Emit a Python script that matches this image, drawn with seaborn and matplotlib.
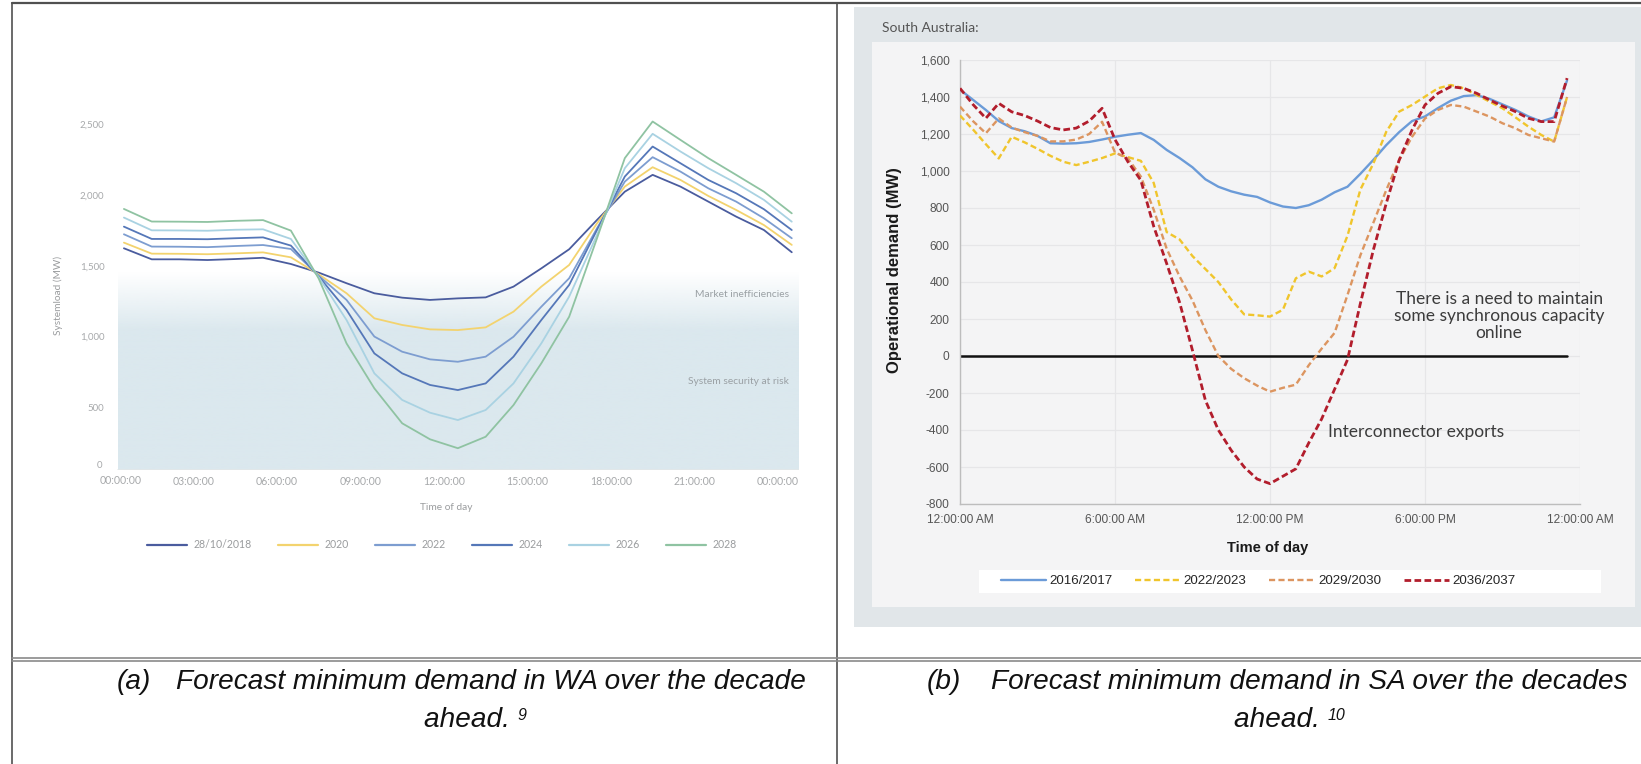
import numpy as np
import pandas as pd
import matplotlib
matplotlib.use("Agg")
import matplotlib.pyplot as plt
import seaborn as sns
from matplotlib.patches import Rectangle
from matplotlib.ticker import FuncFormatter, FixedLocator
from matplotlib.colors import to_rgb

# ---------------- WA data (hourly, half past each hour) ----------------
wa_hours = [0.5 + k for k in range(25)]
wa_2018 = [1624, 1546, 1546, 1541, 1548, 1557, 1513, 1452, 1377, 1306, 1275, 1259, 1270,
           1277, 1353, 1482, 1617, 1824, 2024, 2143, 2060, 1954, 1848, 1753, 1596]
wa_2020 = [1664, 1586, 1585, 1582, 1588, 1595, 1560, 1440, 1306, 1129, 1082, 1051, 1046,
           1065, 1176, 1353, 1506, 1800, 2060, 2197, 2107, 1994, 1895, 1788, 1648]
wa_2022 = [1723, 1636, 1635, 1632, 1640, 1647, 1619, 1430, 1259, 1000, 893, 839, 822,
           858, 999, 1211, 1412, 1765, 2095, 2268, 2166, 2048, 1954, 1836, 1695]
wa_2024 = [1777, 1690, 1690, 1688, 1695, 1701, 1643, 1425, 1188, 881, 740, 658, 622,
           669, 858, 1117, 1365, 1753, 2131, 2343, 2225, 2107, 2013, 1900, 1753]
wa_2026 = [1841, 1751, 1750, 1748, 1755, 1758, 1690, 1420, 1117, 740, 552, 462, 410,
           481, 669, 952, 1282, 1718, 2190, 2433, 2308, 2190, 2084, 1966, 1812]
wa_2028 = [1902, 1813, 1812, 1810, 1818, 1823, 1749, 1410, 952, 634, 387, 274, 211,
           292, 516, 811, 1140, 1694, 2261, 2520, 2390, 2261, 2143, 2024, 1871]
wa_labels = ["28/10/2018", "2020", "2022", "2024", "2026", "2028"]
wa_colors = ["#4a5c9e", "#f3d36e", "#7d9dd0", "#5577b8", "#a9d2e2", "#8fc3a2"]
wa_yticks = [500, 1000, 1500, 2000, 2500]
wa_xticks = [0, 3, 6, 9, 12, 15, 18, 21, 24]
wa_xticklabels = ["00:00:00", "03:00:00", "06:00:00", "09:00:00", "12:00:00",
                  "15:00:00", "18:00:00", "21:00:00", "00:00:00"]

# ---------------- SA data (half-hourly) ----------------
sa_hours = [0.5 * k for k in range(48)]
sa_2016 = [1440, 1385, 1330, 1270, 1232, 1215, 1190, 1150, 1148, 1150, 1157, 1170,
           1185, 1196, 1205, 1168, 1114, 1070, 1020, 955, 915, 890, 872, 860,
           830, 808, 800, 815, 845, 885, 915, 985, 1060, 1140, 1210, 1270,
           1295, 1340, 1380, 1405, 1410, 1390, 1360, 1330, 1295, 1268, 1290, 1490]
sa_2022 = [1300, 1225, 1145, 1068, 1185, 1155, 1120, 1082, 1050, 1032, 1050, 1070,
           1095, 1075, 1055, 935, 670, 630, 540, 470, 400, 305, 225, 220,
           213, 250, 420, 456, 430, 475, 650, 900, 1040, 1212, 1321, 1357,
           1402, 1447, 1465, 1447, 1411, 1375, 1339, 1290, 1240, 1195, 1159, 1400]
sa_2029 = [1348, 1270, 1204, 1284, 1235, 1210, 1190, 1160, 1160, 1170, 1200, 1266,
           1100, 1068, 970, 790, 580, 430, 300, 140, 0, -70, -120, -160,
           -193, -172, -155, -50, 40, 125, 330, 545, 720, 897, 1059, 1185,
           1284, 1330, 1357, 1348, 1321, 1294, 1258, 1231, 1195, 1177, 1159, 1400]
sa_2036 = [1447, 1360, 1285, 1366, 1320, 1300, 1270, 1235, 1222, 1232, 1270, 1339,
           1170, 1050, 950, 700, 500, 290, 30, -240, -400, -510, -600, -665,
           -690, -650, -610, -470, -340, -180, -20, 285, 573, 825, 1059, 1222,
           1357, 1420, 1456, 1447, 1420, 1384, 1351, 1321, 1285, 1267, 1267, 1502]
sa_labels = ["2016/2017", "2022/2023", "2029/2030", "2036/2037"]
sa_colors = ["#6b9bd8", "#f0c52c", "#dc9560", "#b21d2c"]
sa_yticks = [-800, -600, -400, -200, 0, 200, 400, 600, 800, 1000, 1200, 1400, 1600]
sa_xticks = [0, 6, 12, 18, 24]
sa_xticklabels = ["12:00:00 AM", "6:00:00 AM", "12:00:00 PM", "6:00:00 PM", "12:00:00 AM"]

W, H = 1641, 764
fig = plt.figure(figsize=(W / 100, H / 100), dpi=100)
sns.set_style("white")
plt.rcParams["font.family"] = ["Lato", "DejaVu Sans"]

def fx(px):
    return px / W

def fy(py):
    return 1 - py / H

# ---------------- background (table + SA panel) ----------------
bg = fig.add_axes([0, 0, 1, 1], zorder=-10)
bg.set_xlim(0, W)
bg.set_ylim(H, 0)
bg.axis("off")
bg.add_patch(Rectangle((854, 7), 787, 620, color="#e1e6e9", lw=0))
bg.add_patch(Rectangle((872, 42), 763, 565, color="#f4f4f5", lw=0))
bg.add_patch(Rectangle((979, 570), 622, 23, color="white", lw=0))
lc = "#505050"
bg.plot([12, W], [3, 3], color=lc, lw=1.6)
bg.plot([12, 12], [3, H], color=lc, lw=1.2)
bg.plot([837, 837], [3, H], color=lc, lw=1.2)
bg.plot([12, W], [658, 658], color="#8a8a8a", lw=1.2)
bg.plot([12, W], [661, 661], color="#8a8a8a", lw=1.2)

# ---------------- Left chart (WA) ----------------
axL = fig.add_axes([fx(110), fy(470), fx(799) - fx(110), fy(100) - fy(470)])
axL.set_facecolor("none")
ylo, yhi = 57, 2672
top_fade, full_col = 1450, 1040
ys = np.linspace(ylo, top_fade, 400)
alpha = np.clip((top_fade - ys) / (top_fade - full_col), 0, 1)
rgba = np.zeros((400, 1, 4))
rgba[:, 0, :3] = to_rgb("#dbe8ee")
rgba[:, 0, 3] = alpha
axL.imshow(rgba, extent=(0.29, 24.76, ylo, top_fade), origin="lower", aspect="auto", zorder=0)
axL.axhline(ylo, xmin=0.29 / 24.76, xmax=1, color="#e3e7e9", lw=1.2, zorder=1)

for vals, lab, col in zip([wa_2018, wa_2020, wa_2022, wa_2024, wa_2026, wa_2028],
                          wa_labels, wa_colors):
    sns.lineplot(x=wa_hours, y=vals, ax=axL, color=col, lw=1.3, label=lab, zorder=3)

axL.set_xlim(0, 24.76)
axL.set_ylim(ylo, yhi)
for s in axL.spines.values():
    s.set_visible(False)
axL.yaxis.set_major_locator(FixedLocator(wa_yticks))
axL.yaxis.set_major_formatter(FuncFormatter(lambda v, p: f"{int(v):,}"))
axL.set_xticks(wa_xticks)
axL.set_xticklabels([""] + wa_xticklabels[1:])
tick_col = "#a7a9ab"
axL.tick_params(axis="y", length=0, pad=4, labelsize=7, labelcolor=tick_col)
axL.tick_params(axis="x", length=0, pad=4, labelsize=7.6, labelcolor=tick_col)
axL.annotate(wa_xticklabels[0], xy=(0, 0), xycoords="axes fraction", xytext=(11, -10),
             textcoords="offset pixels", ha="center", va="center", fontsize=7.6, color=tick_col)
axL.annotate("0", xy=(0, 0), xycoords="axes fraction", xytext=(-8, 5),
             textcoords="offset pixels", ha="right", va="center", fontsize=7, color=tick_col)
axL.set_xlabel("Time of day", fontsize=7.3, color="#9a9c9e")
axL.xaxis.set_label_coords((446 - 110) / 689, (470 - 503) / 370)
axL.set_ylabel("Systemload (MW)", fontsize=7.3, color="#9a9c9e")
axL.yaxis.set_label_coords((63 - 110) / 689, (470 - 295) / 370)
axL.text(0.985, 1300, "Market inefficiencies", transform=axL.get_yaxis_transform(),
         ha="right", va="center", fontsize=7.4, color="#9aa0a4")
axL.text(0.985, 680, "System security at risk", transform=axL.get_yaxis_transform(),
         ha="right", va="center", fontsize=7.4, color="#9aa0a4")
legL = axL.legend(loc="center", bbox_to_anchor=(fx(442), fy(545)), bbox_transform=fig.transFigure,
                  ncol=6, frameon=False, fontsize=7.6, handlelength=3.8, handletextpad=0.6,
                  columnspacing=2.5)
for t in legL.get_texts():
    t.set_color("#9a9c9e")
for h in legL.legend_handles:
    h.set_linewidth(1.6)

# ---------------- Right chart (SA) ----------------
axR = fig.add_axes([fx(960), fy(504), fx(1580) - fx(960), fy(60) - fy(504)])
axR.set_facecolor("none")
styles = [dict(ls="-", lw=1.7), dict(ls=(0, (2.6, 1.4)), lw=1.7),
          dict(ls=(0, (2.6, 1.4)), lw=1.7), dict(ls=(0, (2.4, 1.2)), lw=2.0)]
for vals, lab, col, st in zip([sa_2016, sa_2022, sa_2029, sa_2036], sa_labels, sa_colors, styles):
    sns.lineplot(x=sa_hours, y=vals, ax=axR, color=col, label=lab, zorder=3, **st)
axR.axhline(0, xmin=0, xmax=23.5 / 24, color="#111111", lw=1.8, zorder=2)
axR.set_xlim(0, 24)
axR.set_ylim(-800, 1600)
axR.yaxis.set_major_locator(FixedLocator(sa_yticks))
axR.yaxis.set_major_formatter(FuncFormatter(lambda v, p: f"{int(v):,}"))
axR.set_xticks(sa_xticks)
axR.set_xticklabels(sa_xticklabels)
axR.grid(True, color="#e6e6e8", lw=0.9)
axR.set_axisbelow(True)
for side in ["top", "right"]:
    axR.spines[side].set_visible(False)
for side in ["left", "bottom"]:
    axR.spines[side].set_color("#bdbdbd")
    axR.spines[side].set_linewidth(1.0)
axR.tick_params(axis="both", direction="out", length=4, width=0.8, color="#bdbdbd",
                labelsize=8.6, labelcolor="#555555")
for t in axR.get_xticklabels() + axR.get_yticklabels():
    t.set_family(["Liberation Sans", "DejaVu Sans"])
axR.set_ylabel("Operational demand (MW)", fontsize=12, fontweight="bold", color="#1a1a1a",
               family=["Liberation Sans", "DejaVu Sans"])
axR.yaxis.set_label_coords((902 - 960) / 620, (504 - 270) / 444)
axR.set_xlabel("Time of day", fontsize=10.5, fontweight="bold", color="#1a1a1a",
               family=["Liberation Sans", "DejaVu Sans"])
axR.xaxis.set_label_coords((1268 - 960) / 620, (504 - 541) / 444)
axR.text(20.87, 216, "There is a need to maintain\nsome synchronous capacity\nonline",
         ha="center", va="center", fontsize=12.5, color="#3c3c3c", linespacing=1.05)
axR.text(17.65, -411, "Interconnector exports", ha="center", va="center",
         fontsize=12.5, color="#3c3c3c")
legR = axR.legend(loc="center", bbox_to_anchor=(fx(1258), fy(581)), bbox_transform=fig.transFigure,
                  ncol=4, frameon=False, handlelength=3.4, handletextpad=0.25, columnspacing=1.7,
                  prop={"family": ["Liberation Sans", "DejaVu Sans"], "size": 9.6})
fig.text(fx(882), fy(28), "South Australia:", ha="left", va="center", fontsize=10, color="#555555")

# ---------------- Captions ----------------
cap_font = dict(family=["Liberation Sans", "DejaVu Sans"],
                style="italic", fontsize=20.2, color="#111111")
fig.text(fx(117), fy(682), "(a)", ha="left", va="center", **cap_font)
fig.text(fx(806), fy(682), "Forecast minimum demand in WA over the decade", ha="right", va="center", **cap_font)
ta = fig.text(fx(471), fy(720), "ahead. ", ha="center", va="center", **cap_font)
fig.text(fx(927), fy(682), "(b)", ha="left", va="center", **cap_font)
fig.text(fx(1628), fy(682), "Forecast minimum demand in SA over the decades", ha="right", va="center", **cap_font)
tb = fig.text(fx(1281), fy(720), "ahead. ", ha="center", va="center", **cap_font)
sup_font = dict(cap_font, fontsize=11.5)
bg.annotate("9", xy=(1, 0.95), xycoords=ta, ha="left", va="top", **sup_font)
bg.annotate("10", xy=(1, 0.95), xycoords=tb, ha="left", va="top", **sup_font)

fig.savefig("out.png", dpi=100, facecolor="white")
